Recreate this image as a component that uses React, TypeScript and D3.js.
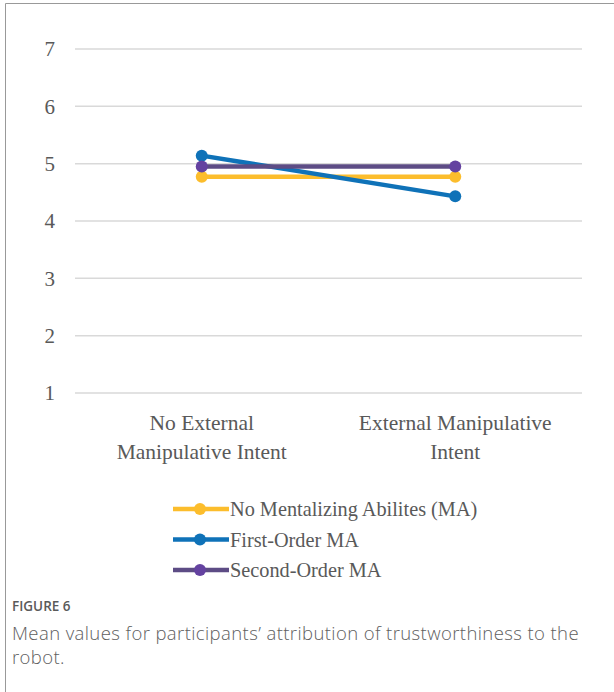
import React, { useRef, useEffect } from 'react';
import * as d3 from 'd3';

// chart data
const categories = ['No External|Manipulative Intent', 'External Manipulative|Intent'];
const yTicks = [1, 2, 3, 4, 5, 6, 7];
const seriesNames = ['No Mentalizing Abilites (MA)', 'First-Order MA', 'Second-Order MA'];
const noMA = [4.77, 4.77];
const firstOrder = [5.14, 4.43];
const secondOrder = [4.95, 4.95];
const seriesColors = ['#FCBD2C', '#0F72B8', '#5D4C85'];
const markerColors = ['#FCBD2C', '#0F72B8', '#6442A0'];

const App = () => {
    const svgRef = useRef<SVGSVGElement>(null);

    useEffect(() => {
        const svg = d3.select(svgRef.current);
        svg.selectAll('*').remove();

        const width = 614;
        const height = 692;
        const margin = { left: 75, right: 32, top: 49, bottom: 299 };

        // frame border (top + left)
        svg.append('path')
            .attr('d', `M5.5,${height} V3.5 H${width}`)
            .attr('fill', 'none')
            .attr('stroke', '#999')
            .attr('stroke-width', 1);

        const x = d3.scalePoint<string>()
            .domain(categories)
            .range([margin.left, width - margin.right])
            .padding(0.5);

        const y = d3.scaleLinear()
            .domain([1, 7])
            .range([height - margin.bottom, margin.top]);

        // gridlines
        svg.append('g')
            .selectAll('line')
            .data(yTicks)
            .join('line')
            .attr('x1', margin.left)
            .attr('x2', width - margin.right)
            .attr('y1', d => y(d))
            .attr('y2', d => y(d))
            .attr('stroke', '#d9d9d9')
            .attr('stroke-width', 1.5);

        // y tick labels
        svg.append('g')
            .selectAll('text')
            .data(yTicks)
            .join('text')
            .attr('x', 55)
            .attr('y', d => y(d))
            .attr('dy', '0.35em')
            .attr('text-anchor', 'end')
            .attr('font-family', 'Liberation Serif, Times New Roman, serif')
            .attr('font-size', 21)
            .attr('fill', '#595959')
            .text(d => d);

        // x category labels
        const xl = svg.append('g')
            .selectAll('text')
            .data(categories)
            .join('text')
            .attr('x', d => x(d)!)
            .attr('y', 430)
            .attr('text-anchor', 'middle')
            .attr('font-family', 'Liberation Serif, Times New Roman, serif')
            .attr('font-size', 21.5)
            .attr('fill', '#595959');
        xl.each(function (d) {
            const t = d3.select(this);
            d.split('|').forEach((part, i) => {
                t.append('tspan')
                    .attr('x', x(d)!)
                    .attr('dy', i === 0 ? 0 : 29)
                    .text(part);
            });
        });

        const allSeries = [noMA, firstOrder, secondOrder];
        const line = d3.line<number>()
            .x((_, i) => x(categories[i])!)
            .y(d => y(d));

        allSeries.forEach((vals, s) => {
            const g = svg.append('g');
            g.append('path')
                .datum(vals)
                .attr('fill', 'none')
                .attr('stroke', seriesColors[s])
                .attr('stroke-width', 4.5)
                .attr('d', line);
            g.selectAll('circle')
                .data(vals)
                .join('circle')
                .attr('cx', (_, i) => x(categories[i])!)
                .attr('cy', d => y(d))
                .attr('r', 6)
                .attr('fill', markerColors[s]);
        });

        // legend
        const legend = svg.append('g');
        seriesNames.forEach((name, i) => {
            const ly = 509 + i * 30.5;
            legend.append('line')
                .attr('x1', 173).attr('x2', 229)
                .attr('y1', ly).attr('y2', ly)
                .attr('stroke', seriesColors[i])
                .attr('stroke-width', 4.5);
            legend.append('circle')
                .attr('cx', 200).attr('cy', ly).attr('r', 6)
                .attr('fill', markerColors[i]);
            legend.append('text')
                .attr('x', 230).attr('y', ly)
                .attr('dy', '0.35em')
                .attr('font-family', 'Liberation Serif, Times New Roman, serif')
                .attr('font-size', 20.3)
                .attr('fill', '#595959')
                .text(name);
        });

        // caption
        svg.append('text')
            .attr('x', 12).attr('y', 611)
            .attr('font-family', 'Open Sans, sans-serif')
            .attr('font-size', 13.5)
            .attr('font-weight', 600)
            .attr('fill', '#5a5a5a')
            .text('FIGURE 6');
        const cap = svg.append('text')
            .attr('font-family', 'Open Sans, sans-serif')
            .attr('font-size', 18.5)
            .attr('font-weight', 300)
            .attr('letter-spacing', 0.4)
            .attr('fill', '#5e5e5e');
        cap.append('tspan').attr('x', 12).attr('y', 640)
            .text('Mean values for participants\u2019 attribution of trustworthiness to the');
        cap.append('tspan').attr('x', 12).attr('y', 664).text('robot.');
    }, []);

    return (
        <div style={{ position: 'absolute', left: 0, top: 0, width: 614, height: 692, background: '#fff' }}>
            <svg ref={svgRef} width={614} height={692} style={{ display: 'block' }}></svg>
        </div>
    );
};

export default App;
